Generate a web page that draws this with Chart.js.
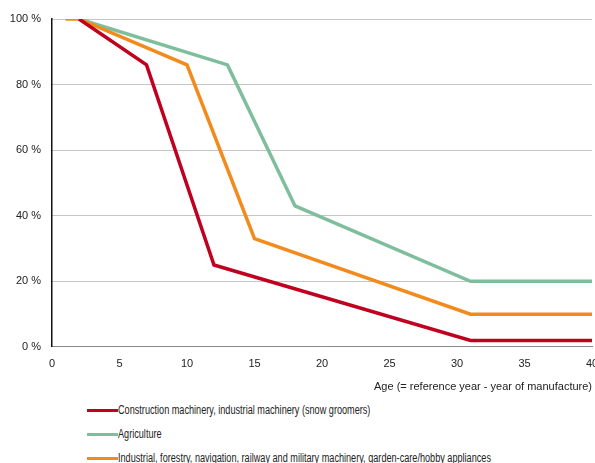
<!DOCTYPE html>
<html>
<head>
<meta charset="utf-8">
<script src="https://cdn.jsdelivr.net/npm/chart.js@4/dist/chart.umd.min.js"></script>
<style>
  body { margin: 0; background: #fff; font-family: "Liberation Sans", Arial, sans-serif; }
  #wrap { position: relative; width: 595px; height: 394px; }
  #legend { position: absolute; top: 398px; left: 87px; color: #222; font-size: 12.5px; }
  .item { display: flex; align-items: center; height: 24px; white-space: nowrap; }
  .swatch { width: 31px; height: 3px; flex: none; }
  .txt { display: inline-block; transform: scaleX(0.73); transform-origin: left center; }
</style>
</head>
<body>
<div id="wrap"><canvas id="chart"></canvas></div>
<div id="legend"></div>
<script>
const seriesNames = [
  "Construction machinery, industrial machinery (snow groomers)",
  "Agriculture",
  "Industrial, forestry, navigation, railway and military machinery, garden-care/hobby appliances"
];
const seriesColors = ["#c0001f", "#7fbe9c", "#f28a1c"];

const construction = [{x: 2, y: 100}, {x: 7, y: 86}, {x: 12, y: 25}, {x: 31, y: 2}, {x: 40, y: 2}];
const agriculture = [{x: 2, y: 100}, {x: 13, y: 86}, {x: 18, y: 43}, {x: 31, y: 20}, {x: 40, y: 20}];
const industrial = [{x: 1, y: 100}, {x: 2, y: 100}, {x: 10, y: 86}, {x: 15, y: 33}, {x: 31, y: 10}, {x: 40, y: 10}];

const xTicks = [0, 5, 10, 15, 20, 25, 30, 35, 40];
const yTicks = [0, 20, 40, 60, 80, 100];
const xTitle = "Age (= reference year - year of manufacture)";

const font = { family: "'Liberation Sans', Arial, sans-serif", size: 11 };
const allData = [construction, agriculture, industrial];

// red on top, then orange, then green
const datasets = allData.map((d, i) => ({
  label: seriesNames[i],
  data: d,
  borderColor: seriesColors[i],
  backgroundColor: seriesColors[i],
  borderWidth: 3.5,
  pointRadius: 0,
  tension: 0,
  order: i === 0 ? 0 : (i === 2 ? 1 : 2)
}));

new Chart(document.getElementById("chart"), {
  type: "line",
  data: { datasets },
  options: {
    responsive: true,
    maintainAspectRatio: false,
    animation: false,
    layout: { padding: { top: 19, right: 3, left: 0, bottom: 0 } },
    plugins: { legend: { display: false }, tooltip: { enabled: false } },
    scales: {
      x: {
        type: "linear",
        min: 0, max: 40,
        afterBuildTicks: s => { s.ticks = xTicks.map(v => ({ value: v })); },
        afterFit: s => { s.paddingRight = 0; s.paddingLeft = 0; },
        grid: { display: false, drawTicks: false },
        border: { display: true, color: "#888", width: 1 },
        ticks: { color: "#222", font: { ...font, lineHeight: 0.35 }, padding: 15, maxRotation: 0 },
        title: { display: true, text: xTitle, align: "end", color: "#222", font, padding: { top: 0, bottom: 0 } }
      },
      y: {
        min: 0, max: 100,
        afterBuildTicks: s => { s.ticks = yTicks.map(v => ({ value: v })); },
        afterFit: s => { s.width = 52; },
        grid: { color: "#8a8a8a", lineWidth: 1, drawTicks: false },
        border: { display: true, color: "#111", width: 1.5, dash: [1, 1] },
        ticks: { color: "#222", font, padding: 11, callback: v => v + " %" }
      }
    }
  }
});

const legend = document.getElementById("legend");
seriesNames.forEach((name, i) => {
  const row = document.createElement("div");
  row.className = "item";
  row.innerHTML = '<span class="swatch" style="background:' + seriesColors[i] + '"></span><span class="txt">' + name + '</span>';
  legend.appendChild(row);
});
</script>
</body>
</html>
